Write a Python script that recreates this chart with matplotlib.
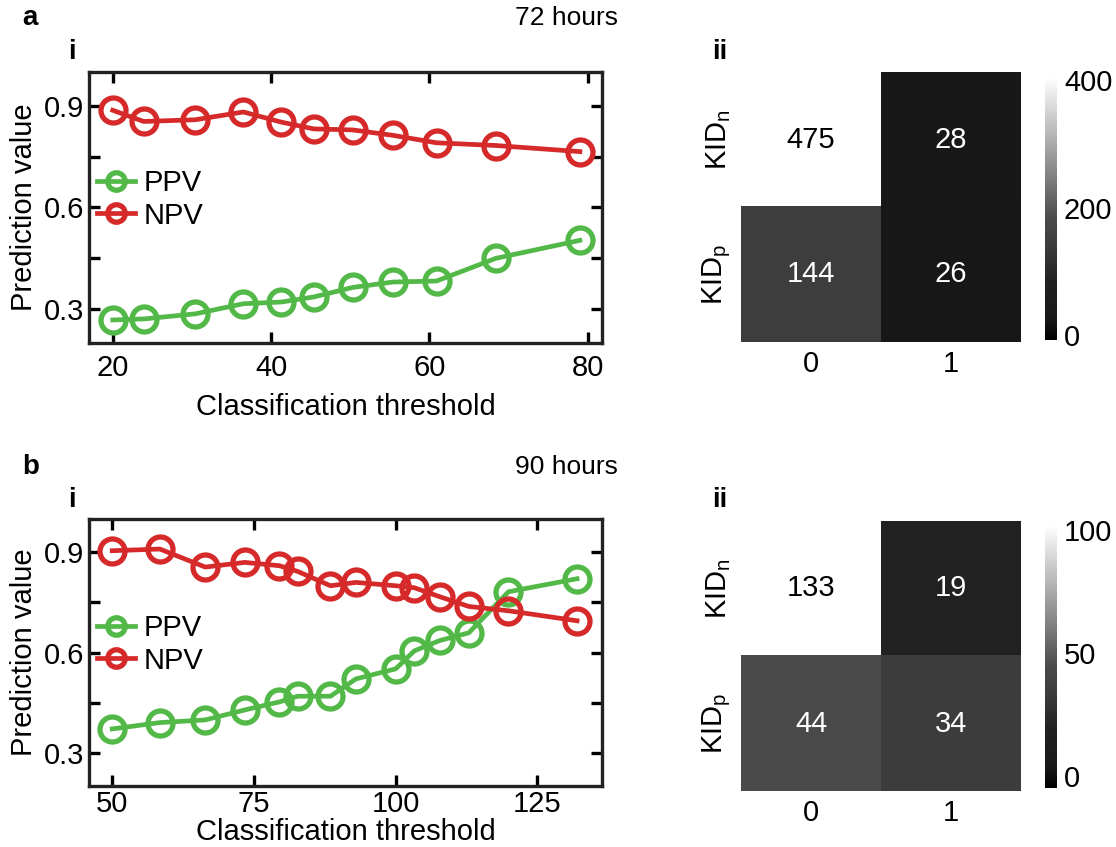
import numpy as np
import matplotlib
matplotlib.use('Agg')
import matplotlib.pyplot as plt
from matplotlib.colors import LinearSegmentedColormap
from matplotlib.ticker import MultipleLocator

plt.rcParams['font.family'] = ['Liberation Sans', 'DejaVu Sans']

# ---- data, 72 hours
thr_72 = [20, 23.9, 30.4, 36.5, 41.3, 45.4, 50.3, 55.4, 60.9, 68.4, 79.0]
ppv_72 = [0.268, 0.271, 0.286, 0.316, 0.321, 0.336, 0.364, 0.380, 0.383, 0.450, 0.503]
npv_72 = [0.887, 0.854, 0.859, 0.882, 0.852, 0.832, 0.829, 0.813, 0.791, 0.783, 0.765]
cm_72 = [[475, 28], [144, 26]]

# ---- data, 90 hours
thr_90 = [50, 58.4, 66.4, 73.4, 79.5, 82.7, 88.5, 93.0, 100, 103.3, 107.8, 112.9, 119.9, 132]
ppv_90 = [0.371, 0.390, 0.398, 0.428, 0.452, 0.469, 0.469, 0.521, 0.551, 0.605, 0.636, 0.659, 0.782, 0.821]
npv_90 = [0.905, 0.910, 0.856, 0.870, 0.860, 0.843, 0.800, 0.810, 0.800, 0.794, 0.767, 0.738, 0.725, 0.695]
cm_90 = [[133, 19], [44, 34]]

row_labels = ['KID$_\\mathregular{n}$', 'KID$_\\mathregular{p}$']
col_labels = ['0', '1']

W, H = 1116, 847
fig = plt.figure(figsize=(W/100, H/100), dpi=100)

def box(l, t, r, b):
    return [l/W, 1-b/H, (r-l)/W, (b-t)/H]

green = '#52b948'
red = '#d62a2a'
FS = 21

# grey map (slightly darker in the low/mid range like the original)
gmap = LinearSegmentedColormap.from_list('g', [(0, '#000000'), (0.09, '#1a1a1a'), (0.22, '#212121'),
                                               (0.37, '#3e3e3e'), (0.46, '#4a4a4a'), (1, '#ffffff')])

def line_panel(rect, x, ppv, npv, xlim, xticks, xpad):
    ax = fig.add_axes(rect)
    ax.plot(x, ppv, '-o', color=green, lw=3.4, ms=18, mfc='none', mew=3.8, label='PPV')
    ax.plot(x, npv, '-o', color=red, lw=3.4, ms=18, mfc='none', mew=3.8, label='NPV')
    ax.set_xlim(*xlim)
    ax.set_ylim(0.2, 1.0)
    ax.set_xticks(xticks)
    ax.set_yticks([0.3, 0.6, 0.9])
    ax.yaxis.set_minor_locator(MultipleLocator(0.15))
    ax.tick_params(which='both', direction='in', top=True, right=True, width=2.4, length=8, labelsize=FS)
    ax.tick_params(axis='x', pad=xpad)
    for s in ax.spines.values():
        s.set_linewidth(2.4)
        s.set_color('#222222')
    ax.set_ylabel('Prediction value', fontsize=FS, labelpad=4)
    ax.legend(loc='center left', bbox_to_anchor=(-0.035, 0.53), frameon=False, fontsize=FS,
              markerscale=0.7, handlelength=1.3, handletextpad=0.3, labelspacing=0.15)
    return ax

def heat_panel(rect, crect, cm, vmin, vmax, cticks):
    ax = fig.add_axes(rect)
    data = np.array(cm)
    im = ax.imshow(data, cmap=gmap, vmin=vmin, vmax=vmax, aspect='auto')
    for i in range(2):
        for j in range(2):
            v = data[i, j]
            col = 'black' if (v - vmin) / (vmax - vmin) > 0.6 else 'white'
            ax.text(j, i, str(v), ha='center', va='center', fontsize=FS, color=col)
    ax.set_xticks([0, 1])
    ax.set_xticklabels(col_labels, fontsize=FS)
    ax.set_yticks([0, 1])
    ax.set_yticklabels(row_labels, fontsize=FS, rotation=90, va='center')
    ax.tick_params(length=0, pad=6)
    for s in ax.spines.values():
        s.set_visible(False)
    cax = fig.add_axes(crect)
    cb = fig.colorbar(im, cax=cax, ticks=cticks)
    cb.outline.set_visible(False)
    cax.tick_params(length=0, labelsize=FS, pad=5)
    return ax

ax1 = line_panel(box(89, 72, 602, 343), thr_72, ppv_72, npv_72, (17, 81.8), [20, 40, 60, 80], 8)
ax1.set_xlabel('Classification threshold', fontsize=FS, labelpad=8)
ax2 = line_panel(box(89, 519, 602, 786), thr_90, ppv_90, npv_90, (45.9, 136.4), [50, 75, 100, 125], 3)
ax2.set_xlabel('Classification threshold', fontsize=FS, labelpad=0)

heat_panel(box(741, 72, 1021, 342), box(1045, 77, 1057, 340), cm_72, -8, 405, [0, 200, 400])
heat_panel(box(741, 521, 1021, 791), box(1045, 525, 1057, 788), cm_90, -5, 102, [0, 50, 100])

# panel labels
fig.text(22/W, 1-18/H, 'a', fontsize=20, fontweight='bold', va='center')
fig.text(618/W, 1-18/H, '72 hours', fontsize=19, ha='right', va='center')
fig.text(68/W, 1-52/H, 'i', fontsize=20, fontweight='bold', va='center')
fig.text(712/W, 1-52/H, 'ii', fontsize=20, fontweight='bold', va='center')
fig.text(22/W, 1-467/H, 'b', fontsize=20, fontweight='bold', va='center')
fig.text(618/W, 1-467/H, '90 hours', fontsize=19, ha='right', va='center')
fig.text(68/W, 1-500/H, 'i', fontsize=20, fontweight='bold', va='center')
fig.text(712/W, 1-500/H, 'ii', fontsize=20, fontweight='bold', va='center')

fig.savefig('out.png', dpi=100)
